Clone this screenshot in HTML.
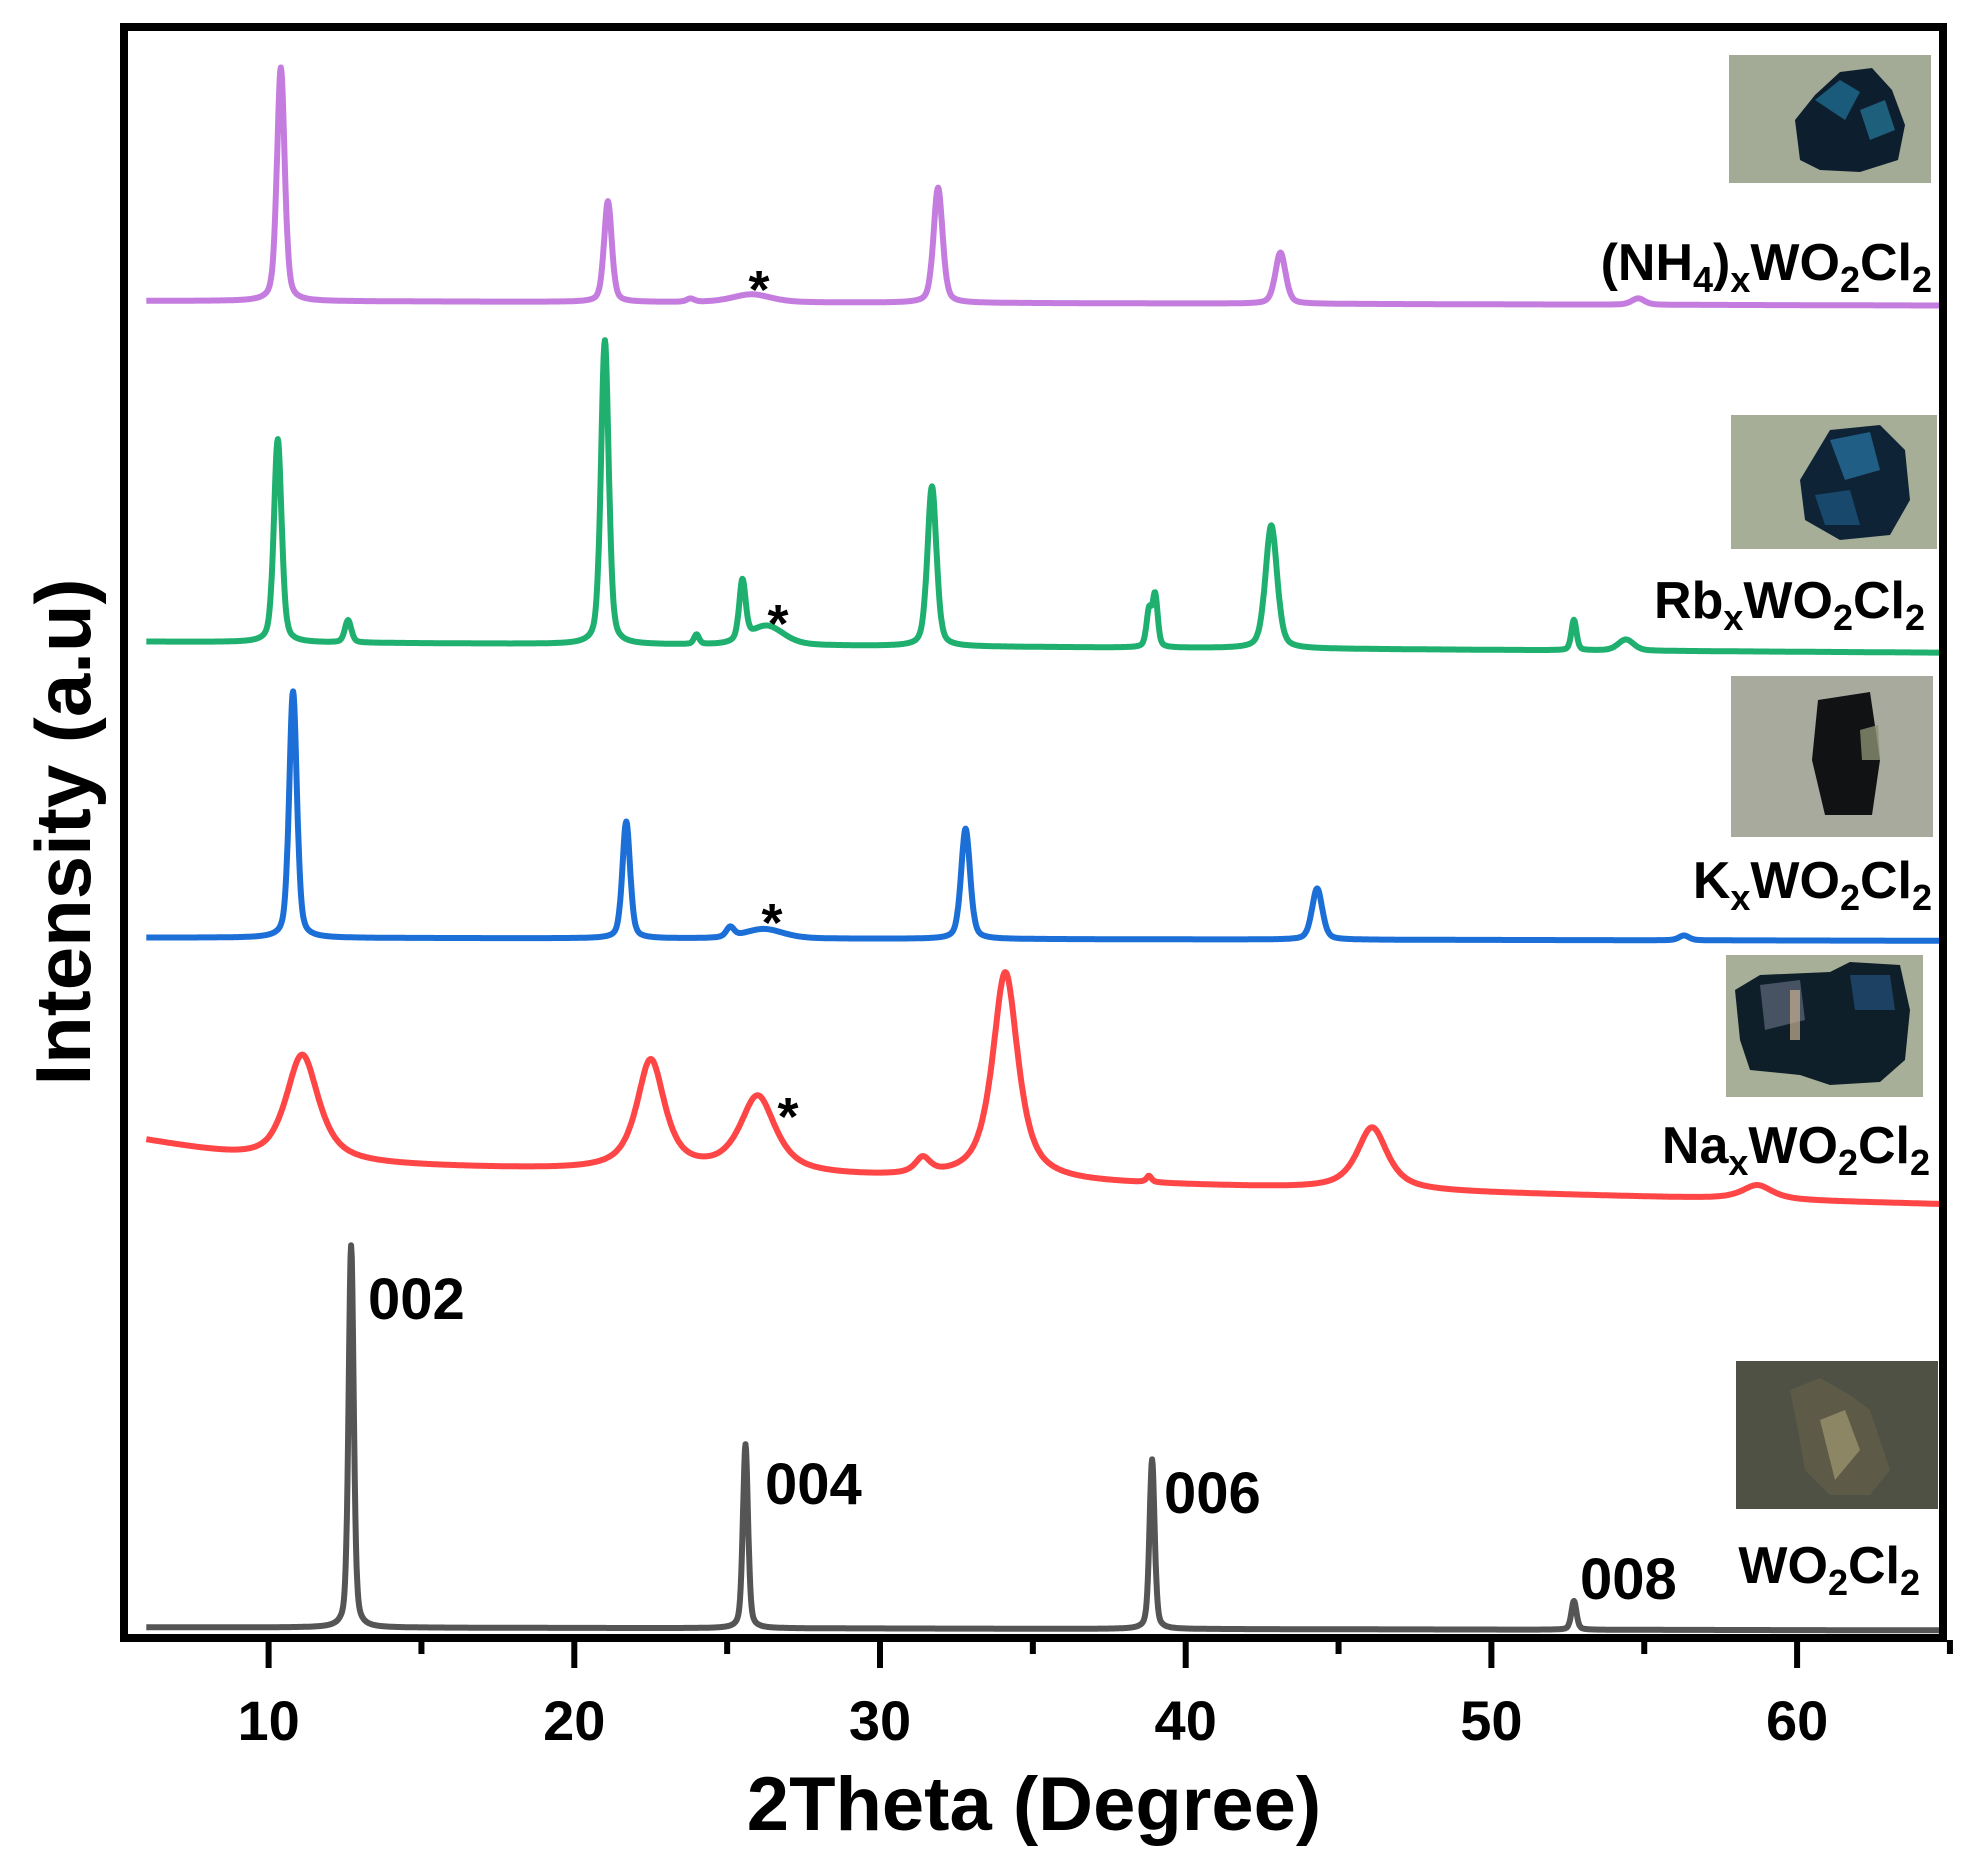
<!DOCTYPE html>
<html><head><meta charset="utf-8"><style>
html,body{margin:0;padding:0;background:#fff;}
svg{display:block;}
text{font-family:"Liberation Sans",Arial,sans-serif;font-weight:bold;fill:#000;}
</style></head>
<body>
<svg id="chart" width="1967" height="1861" viewBox="0 0 1967 1861" xmlns="http://www.w3.org/2000/svg">
<defs><clipPath id="plotclip"><rect x="128" y="30" width="1811" height="1604"/></clipPath></defs>
<g id="photos">
  <g>
    <rect x="1729" y="55" width="202" height="128" fill="#a3ab96"/>
    <polygon points="1800,160 1795,120 1815,95 1840,72 1872,68 1892,90 1905,125 1898,160 1860,172 1820,170" fill="#0d1e2e"/>
    <polygon points="1815,100 1840,80 1860,92 1845,120" fill="#1e6a8f" opacity="0.8"/>
    <polygon points="1860,110 1885,100 1895,130 1870,140" fill="#2a8ab0" opacity="0.6"/>
  </g>
  <g>
    <rect x="1731" y="415" width="206" height="134" fill="#a7ae98"/>
    <polygon points="1800,480 1830,430 1880,425 1905,450 1910,500 1890,535 1840,540 1805,520" fill="#0f2336"/>
    <polygon points="1830,440 1870,432 1880,470 1845,480" fill="#2a77a8" opacity="0.7"/>
    <polygon points="1815,495 1850,490 1860,525 1825,525" fill="#1c5a84" opacity="0.7"/>
  </g>
  <g>
    <rect x="1731" y="676" width="202" height="161" fill="#a8aa9e"/>
    <polygon points="1818,700 1870,692 1880,760 1872,815 1825,815 1812,760" fill="#101214"/>
    <polygon points="1860,730 1878,725 1880,760 1862,760" fill="#8a9070" opacity="0.8"/>
  </g>
  <g>
    <rect x="1726" y="955" width="197" height="142" fill="#a8af98"/>
    <polygon points="1735,990 1760,975 1830,972 1850,962 1900,965 1910,1010 1905,1060 1880,1082 1830,1085 1800,1075 1750,1070 1740,1040" fill="#0f1f2a"/>
    <polygon points="1760,985 1800,980 1805,1020 1765,1030" fill="#556070" opacity="0.8"/>
    <polygon points="1790,990 1800,990 1800,1040 1790,1040" fill="#c8b090" opacity="0.7"/>
    <polygon points="1850,975 1890,975 1895,1010 1855,1010" fill="#1f4a70" opacity="0.8"/>
  </g>
  <g>
    <rect x="1736" y="1361" width="202" height="148" fill="#4f5145"/>
    <polygon points="1790,1390 1820,1378 1850,1395 1870,1410 1880,1440 1890,1470 1870,1495 1830,1495 1805,1470 1798,1430" fill="#5e5a48"/>
    <polygon points="1820,1420 1845,1410 1860,1450 1835,1480" fill="#a09870" opacity="0.7"/>
  </g>
</g>
<g id="traces" clip-path="url(#plotclip)"></g>
<g id="axes"></g>
<rect x="124" y="27" width="1819" height="1611" fill="none" stroke="#000" stroke-width="8"/>
<g>
  <text x="1932" y="280" text-anchor="end" font-size="52">(NH<tspan font-size="36" dy="12">4</tspan><tspan dy="-12">)</tspan><tspan font-size="36" dy="12">x</tspan><tspan dy="-12">WO</tspan><tspan font-size="36" dy="12">2</tspan><tspan dy="-12">Cl</tspan><tspan font-size="36" dy="12">2</tspan></text>
  <text x="1925" y="618" text-anchor="end" font-size="52">Rb<tspan font-size="36" dy="12">x</tspan><tspan dy="-12">WO</tspan><tspan font-size="36" dy="12">2</tspan><tspan dy="-12">Cl</tspan><tspan font-size="36" dy="12">2</tspan></text>
  <text x="1932" y="898" text-anchor="end" font-size="52">K<tspan font-size="36" dy="12">x</tspan><tspan dy="-12">WO</tspan><tspan font-size="36" dy="12">2</tspan><tspan dy="-12">Cl</tspan><tspan font-size="36" dy="12">2</tspan></text>
  <text x="1930" y="1163" text-anchor="end" font-size="52">Na<tspan font-size="36" dy="12">x</tspan><tspan dy="-12">WO</tspan><tspan font-size="36" dy="12">2</tspan><tspan dy="-12">Cl</tspan><tspan font-size="36" dy="12">2</tspan></text>
  <text x="1920" y="1583" text-anchor="end" font-size="52">WO<tspan font-size="36" dy="12">2</tspan><tspan dy="-12">Cl</tspan><tspan font-size="36" dy="12">2</tspan></text>
</g>
<g font-size="58">
  <text x="368" y="1319" font-size="58">002</text>
  <text x="765" y="1504" font-size="58">004</text>
  <text x="1164" y="1513" font-size="58">006</text>
  <text x="1580" y="1599" font-size="58">008</text>
</g>
<g font-size="54">
  <text x="759" y="308" text-anchor="middle" font-size="54">*</text>
  <text x="778" y="642" text-anchor="middle" font-size="54">*</text>
  <text x="772" y="941" text-anchor="middle" font-size="54">*</text>
  <text x="788" y="1135" text-anchor="middle" font-size="54">*</text>
</g>
<text x="1034" y="1830" text-anchor="middle" font-size="76">2Theta (Degree)</text>
<text transform="translate(90,832) rotate(-90)" text-anchor="middle" font-size="78">Intensity (a.u)</text>
</svg>
<script>
// x-axis ticks
const majorTicks = [10, 20, 30, 40, 50, 60];
const minorTicks = [15, 25, 35, 45, 55, 65];
const tickLabels = ["10", "20", "30", "40", "50", "60"];
// series: baselines (start, end) and peaks [position, height, fwhm]
const seriesNames = ["wo2cl2", "na", "k", "rb", "nh4"];
const seriesColors = ["#555555", "#ff4646", "#1c6fd6", "#1fb070", "#c47ddf"];
const baseStart = [8, 300, 439, 624, 837];
const baseEnd = [6, 272, 437, 617, 834];
const naLeftRise = [12];
const wo2cl2Peaks = [[12.7, 239, 0.2], [25.6, 115, 0.2], [38.9, 106, 0.2], [52.7, 18, 0.2]];
const naPeaks = [[11.1, 68, 1.3], [22.5, 69, 1.1], [26.0, 48, 1.4], [31.4, 10, 0.6], [34.1, 130, 1.0], [38.8, 4, 0.2], [46.1, 39, 1.2], [58.7, 9, 1.2]];
const kPeaks = [[10.8, 154, 0.3], [21.7, 73, 0.3], [25.1, 6, 0.3], [26.2, 6, 1.5], [32.8, 69, 0.35], [44.3, 32, 0.4], [56.3, 3, 0.4]];
const rbPeaks = [[10.3, 127, 0.3], [12.6, 14, 0.25], [21.0, 190, 0.3], [24.0, 6, 0.2], [25.5, 37, 0.25], [26.3, 12, 1.3], [31.7, 100, 0.35], [38.8, 22, 0.2], [39.0, 32, 0.2], [42.8, 77, 0.45], [52.7, 19, 0.2], [54.4, 7, 0.6]];
const nh4Peaks = [[10.4, 146, 0.3], [21.1, 63, 0.3], [23.8, 2, 0.3], [25.8, 5, 1.5], [31.9, 72, 0.35], [43.1, 32, 0.4], [54.8, 4, 0.5]];
const allPeaks = [wo2cl2Peaks, naPeaks, kPeaks, rbPeaks, nh4Peaks];

const X0 = 268.6, XPER = 30.57;
function xScale(v){ return X0 + (v - 10) * XPER; }
function yScale(v){ return 1640 - v * 1.6; }
const NS = "http://www.w3.org/2000/svg";
const axes = document.getElementById('axes');


majorTicks.forEach((t, i) => {
  const l = document.createElementNS(NS, 'line');
  l.setAttribute('x1', xScale(t)); l.setAttribute('x2', xScale(t));
  l.setAttribute('y1', 1640); l.setAttribute('y2', 1668);
  l.setAttribute('stroke', '#000'); l.setAttribute('stroke-width', 6);
  
  
  axes.appendChild(l);
  const tx = document.createElementNS(NS, 'text');
  tx.setAttribute('x', xScale(t)); tx.setAttribute('y', 1740);
  tx.setAttribute('text-anchor', 'middle'); tx.setAttribute('font-size', 56);
  tx.textContent = tickLabels[i];
  
  
  axes.appendChild(tx);
});
minorTicks.forEach(t => {
  const l = document.createElementNS(NS, 'line');
  l.setAttribute('x1', xScale(t)); l.setAttribute('x2', xScale(t));
  l.setAttribute('y1', 1640); l.setAttribute('y2', 1654);
  l.setAttribute('stroke', '#000'); l.setAttribute('stroke-width', 6);
  
  
  axes.appendChild(l);
});
const traces = document.getElementById('traces');
function profile(x, p, broad){
  const d = (x - p[0]) / (p[2] / 2);
  const lor = 1 / (1 + d * d);
  const gau = Math.exp(-0.693 * d * d);
  const eta = broad ? 0.8 : 0.4;
  return p[1] * (eta * lor + (1 - eta) * gau);
}
seriesNames.forEach((name, si) => {
  const peaks = allPeaks[si];
  const broad = name === 'na';
  let d = '';
  const xs = 6, xe = 65.5;
  for (let x = xs; x <= xe; x += 0.02) {
    let v = baseStart[si] + (baseEnd[si] - baseStart[si]) * (x - xs) / (xe - xs);
    if (broad && x < 10) v += naLeftRise[0] * (10 - x) / 4;
    peaks.forEach(p => { v += profile(x, p, broad); });
    d += (d ? 'L' : 'M') + xScale(x).toFixed(1) + ',' + yScale(v).toFixed(1);
  }
  const path = document.createElementNS(NS, 'path');
  path.setAttribute('d', d);
  path.setAttribute('fill', 'none');
  path.setAttribute('stroke', seriesColors[si]);
  path.setAttribute('stroke-width', 6);
  path.setAttribute('stroke-linejoin', 'round');
  
  
  traces.appendChild(path);
});
</script>
</body></html>
